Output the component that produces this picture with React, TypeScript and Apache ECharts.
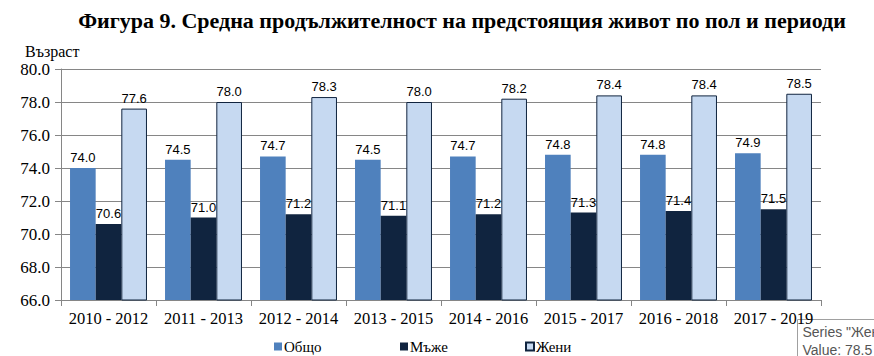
import React, { useEffect, useRef } from "react";
import * as echarts from "echarts";

const categories = ["2010 - 2012", "2011 - 2013", "2012 - 2014", "2013 - 2015", "2014 - 2016", "2015 - 2017", "2016 - 2018", "2017 - 2019"];
const obshto = [74.0, 74.5, 74.7, 74.5, 74.7, 74.8, 74.8, 74.9];
const maje = [70.6, 71.0, 71.2, 71.1, 71.2, 71.3, 71.4, 71.5];
const jeni = [77.6, 78.0, 78.3, 78.0, 78.2, 78.4, 78.4, 78.5];
const seriesNames = ["Общо", "Мъже", "Жени"];
const titleText = "Фигура 9. Средна продължителност на предстоящия живот по пол и периоди";
const yName = "Възраст";

const serif = "'Liberation Serif', 'DejaVu Serif', serif";
const sans = "'Liberation Sans', 'DejaVu Sans', sans-serif";

export default function App() {
  const ref = useRef<HTMLDivElement>(null);
  useEffect(() => {
    document.body.style.margin = "0";
    const chart = echarts.init(ref.current!, null, { renderer: "svg" });
    const label = {
      show: true,
      position: "top" as const,
      distance: 4,
      fontFamily: sans,
      fontSize: 13,
      color: "#000",
      formatter: (p: any) => Number(p.value).toFixed(1),
    };
    const legendBase = {
      top: 339,
      padding: 0,
      itemWidth: 8,
      itemHeight: 8,
      itemGap: 4,
      icon: "rect",
      textStyle: { fontFamily: serif, fontSize: 15, color: "#000", padding: [0, 0, 0, -3] },
    };
    chart.setOption({
      animation: false,
      title: {
        text: titleText,
        left: 457,
        textAlign: "center",
        top: 4,
        textStyle: { fontFamily: serif, fontWeight: "bold", fontSize: 22, color: "#000" },
      },
      grid: { left: 61, right: 53, top: 69, bottom: 56, containLabel: false },
      legend: [
        { ...legendBase, left: 274, data: [seriesNames[0]] },
        { ...legendBase, left: 400, data: [seriesNames[1]] },
        { ...legendBase, left: 525, data: [seriesNames[2]] },
      ],
      xAxis: {
        type: "category",
        data: categories,
        axisLine: { lineStyle: { color: "#868686", width: 1 } },
        axisTick: { show: true, alignWithLabel: false, length: 6, lineStyle: { color: "#868686" } },
        axisLabel: { fontFamily: serif, fontSize: 16.5, color: "#000", margin: 10, interval: 0 },
      },
      yAxis: {
        type: "value",
        min: 66,
        max: 80,
        interval: 2,
        name: yName,
        nameLocation: "end",
        nameGap: 10,
        nameTextStyle: { fontFamily: serif, fontSize: 16, color: "#000", align: "left", padding: [0, 0, 0, -36] },
        axisLine: { show: true, lineStyle: { color: "#868686" } },
        axisTick: { show: true, length: 6, lineStyle: { color: "#868686" } },
        splitLine: { lineStyle: { color: "#868686", width: 1 } },
        axisLabel: { fontFamily: serif, fontSize: 17, color: "#000", margin: 11, formatter: (v: number) => v.toFixed(1) },
      },
      series: [
        {
          name: seriesNames[0],
          type: "bar",
          data: obshto,
          barGap: "0%",
          barCategoryGap: "19%",
          itemStyle: { color: "#4F81BD" },
          label,
        },
        {
          name: seriesNames[1],
          type: "bar",
          data: maje,
          itemStyle: { color: "#10243F" },
          label,
        },
        {
          name: seriesNames[2],
          type: "bar",
          data: jeni,
          itemStyle: { color: "#C6D9F1", borderColor: "#10243F", borderWidth: 1 },
          label,
        },
      ],
      graphic: [
        {
          type: "group",
          left: 797,
          top: 319,
          children: [
            { type: "rect", shape: { x: 0, y: 0, width: 90, height: 45 }, style: { fill: "#fff", stroke: "#a0a0a0", lineWidth: 1 } },
            { type: "text", x: 5, y: 5, style: { text: 'Series "Жени" Point "2017 - 2019"', fill: "#555", font: `14px ${sans}` } },
            { type: "text", x: 5, y: 23, style: { text: "Value: 78.5", fill: "#555", font: `14px ${sans}` } },
          ],
        },
      ],
    });
    return () => chart.dispose();
  }, []);
  return <div ref={ref} style={{ width: 874, height: 356 }} />;
}
